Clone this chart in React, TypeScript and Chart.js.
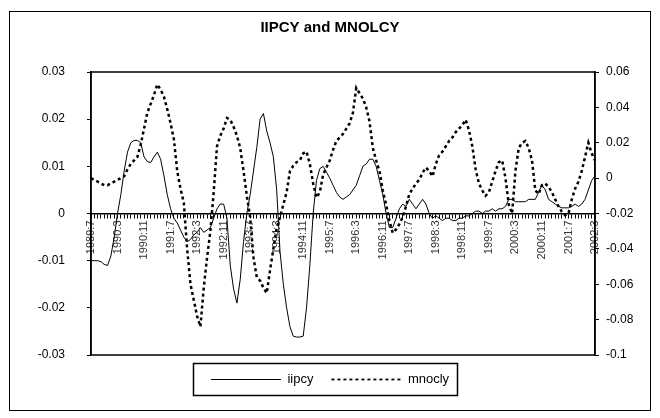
import React, { useEffect, useRef } from 'react';
import { Chart, registerables } from 'chart.js';

Chart.register(...registerables);

// Monthly series, 1989:7 .. 2002:3
const START_YEAR = 1989;
const START_MONTH = 7;
const LABEL_EVERY = 8;

const iipcy = [
  -0.0100, -0.0100, -0.0100, -0.0102, -0.0108, -0.0110, -0.0090, -0.0050, 0.0000, 0.0040,
  0.0090, 0.0130, 0.0150, 0.0155, 0.0155, 0.0150, 0.0120, 0.0110, 0.0108, 0.0120,
  0.0130, 0.0115, 0.0080, 0.0040, 0.0010, -0.0010, -0.0020, -0.0035, -0.0050, -0.0060,
  -0.0055, -0.0045, -0.0040, -0.0030, -0.0040, -0.0035, -0.0030, -0.0010, 0.0010, 0.0020,
  0.0020, -0.0010, -0.0110, -0.0160, -0.0190, -0.0140, -0.0060, 0.0000, 0.0040, 0.0090,
  0.0140, 0.0200, 0.0212, 0.0175, 0.0150, 0.0120, 0.0050, -0.0080, -0.0150, -0.0200,
  -0.0240, -0.0260, -0.0262, -0.0262, -0.0260, -0.0200, -0.0110, 0.0000, 0.0070, 0.0095,
  0.0100, 0.0088, 0.0075, 0.0060, 0.0045, 0.0035, 0.0030, 0.0035, 0.0040, 0.0050,
  0.0060, 0.0080, 0.0100, 0.0105, 0.0115, 0.0115, 0.0100, 0.0070, 0.0040, 0.0000,
  -0.0030, -0.0030, -0.0010, 0.0010, 0.0020, 0.0015, 0.0030, 0.0020, 0.0010, 0.0020,
  0.0030, 0.0020, 0.0000, -0.0010, -0.0005, -0.0010, -0.0015, -0.0010, -0.0010, -0.0015,
  -0.0015, -0.0010, -0.0010, -0.0005, -0.0005, 0.0000, 0.0005, 0.0005, 0.0000, 0.0005,
  0.0005, 0.0010, 0.0005, 0.0010, 0.0010, 0.0015, 0.0030, 0.0030, 0.0025, 0.0025,
  0.0025, 0.0025, 0.0030, 0.0030, 0.0030, 0.0045, 0.0060, 0.0050, 0.0030, 0.0025,
  0.0020, 0.0015, 0.0012, 0.0012, 0.0012, 0.0015, 0.0020, 0.0015, 0.0020, 0.0030,
  0.0050, 0.0070, 0.0080,
];

const mnocly = [
  0.000, -0.001, -0.002, -0.003, -0.004, -0.004, -0.003, -0.002, -0.001, 0.000,
  0.001, 0.005, 0.008, 0.010, 0.012, 0.019, 0.028, 0.037, 0.042, 0.047,
  0.053, 0.050, 0.046, 0.039, 0.031, 0.022, 0.004, -0.006, -0.014, -0.040,
  -0.060, -0.069, -0.078, -0.084, -0.062, -0.045, -0.030, -0.008, 0.018, 0.024,
  0.028, 0.034, 0.033, 0.029, 0.024, 0.017, 0.004, -0.010, -0.022, -0.045,
  -0.056, -0.058, -0.062, -0.065, -0.052, -0.040, -0.028, -0.022, -0.015, -0.008,
  0.004, 0.007, 0.009, 0.010, 0.014, 0.015, 0.008, -0.003, -0.011, -0.008,
  0.002, 0.006, 0.010, 0.016, 0.021, 0.023, 0.025, 0.028, 0.031, 0.037,
  0.051, 0.048, 0.045, 0.040, 0.032, 0.017, 0.010, 0.004, -0.007, -0.015,
  -0.024, -0.031, -0.029, -0.026, -0.022, -0.016, -0.009, -0.006, -0.003, -0.001,
  0.003, 0.006, 0.004, 0.001, 0.008, 0.013, 0.015, 0.018, 0.021, 0.023,
  0.026, 0.028, 0.030, 0.033, 0.027, 0.018, 0.005, -0.003, -0.007, -0.010,
  -0.008, -0.002, 0.004, 0.009, 0.010, 0.000, -0.015, -0.020, 0.004, 0.017,
  0.020, 0.021, 0.017, 0.010, -0.007, -0.009, -0.004, -0.003, -0.005, -0.008,
  -0.012, -0.016, -0.019, -0.021, -0.020, -0.012, -0.006, -0.002, 0.004, 0.012,
  0.020, 0.014, 0.010,
];

const LEFT_MIN = -0.03;
const LEFT_MAX = 0.03;
const LEFT_STEP = 0.01;
const RIGHT_MIN = -0.1;
const RIGHT_MAX = 0.06;
const RIGHT_STEP = 0.02;

const TITLE = 'IIPCY and MNOLCY';
const SERIES_NAMES = ['iipcy', 'mnocly'];

const months = iipcy.map((_, i) => {
  const m = START_MONTH - 1 + i;
  return `${START_YEAR + Math.floor(m / 12)}:${(m % 12) + 1}`;
});

const fmt = (v: number) => String(Number(Number(v).toFixed(2)));

const PAD = { left: 20, right: 20, top: 10, bottom: 22 };
const W = 660;
const H = 418;
const PLOT_LEFT = 91;
const PLOT_RIGHT = 595;

const framePlugin = {
  id: 'frames',
  beforeDraw(chart: any) {
    const { ctx, width, height } = chart;
    ctx.save();
    ctx.fillStyle = '#fff';
    ctx.fillRect(0, 0, width, height);
    ctx.strokeStyle = '#000';
    ctx.lineWidth = 1;
    ctx.strokeRect(9.5, 11.5, width - 19, height - 19);
    ctx.restore();
  },
  beforeDatasetsDraw(chart: any) {
    const { ctx, chartArea: a } = chart;
    ctx.save();
    ctx.strokeStyle = '#000';
    ctx.lineWidth = 1.5;
    ctx.strokeRect(a.left, a.top, a.right - a.left, a.bottom - a.top);
    ctx.restore();
  },
  afterDraw(chart: any) {
    const lg = chart.legend;
    if (!lg || !lg.legendHitBoxes || !lg.legendHitBoxes.length) return;
    const hb = lg.legendHitBoxes;
    const l = Math.min(...hb.map((h: any) => h.left)) - 18;
    const r = Math.max(...hb.map((h: any) => h.left + h.width)) + 8;
    const t = Math.min(...hb.map((h: any) => h.top)) - 10;
    const b = Math.max(...hb.map((h: any) => h.top + h.height)) + 9;
    const { ctx } = chart;
    ctx.save();
    ctx.strokeStyle = '#000';
    ctx.lineWidth = 1.5;
    ctx.strokeRect(Math.round(l) + 0.5, Math.round(t) + 0.5, Math.round(r - l), Math.round(b - t));
    ctx.restore();
  },
};

export default function App() {
  const ref = useRef<HTMLCanvasElement | null>(null);

  useEffect(() => {
    if (!ref.current) return;
    Chart.defaults.font.family = "'Liberation Sans', Arial, sans-serif";
    const chart = new Chart(ref.current, {
      type: 'line',
      data: {
        labels: months,
        datasets: [
          {
            label: SERIES_NAMES[0],
            data: iipcy,
            yAxisID: 'y',
            borderColor: '#000',
            backgroundColor: '#000',
            borderWidth: 1,
            pointRadius: 0,
            tension: 0,
          },
          {
            label: SERIES_NAMES[1],
            data: mnocly,
            yAxisID: 'y1',
            borderColor: '#000',
            backgroundColor: '#000',
            borderWidth: 2.5,
            borderDash: [3, 3],
            pointRadius: 0,
            tension: 0,
          },
        ],
      },
      options: {
        responsive: false,
        animation: false,
        events: [],
        layout: { padding: PAD },
        plugins: {
          title: {
            display: true,
            text: TITLE,
            color: '#000',
            font: { size: 15, weight: 'bold' },
            padding: { top: 9, bottom: 35 },
          },
          legend: {
            position: 'bottom',
            labels: {
              usePointStyle: true,
              pointStyle: 'line',
              pointStyleWidth: 70,
              color: '#000',
              font: { size: 13 },
              padding: 18,
              generateLabels: (chart: any) => {
                const items = Chart.defaults.plugins.legend.labels.generateLabels(chart);
                return items.map((it: any) => {
                  const ds = chart.data.datasets[it.datasetIndex];
                  return {
                    ...it,
                    lineDash: ds.borderDash ? [3, 3] : [],
                    lineWidth: ds.borderDash ? 1.8 : 1,
                    strokeStyle: '#000',
                    pointStyle: 'line',
                  };
                });
              },
            },
          },
          tooltip: { enabled: false },
        },
        scales: {
          x: {
            type: 'category',
            position: { y: 0 } as any,
            offset: false,
            grid: { drawOnChartArea: false, drawTicks: true, tickLength: 4, color: '#000', lineWidth: 1 },
            border: { display: true, color: '#000', width: 1.5 },
            ticks: {
              autoSkip: false,
              minRotation: 90,
              maxRotation: 90,
              padding: 3,
              color: '#333',
              font: { size: 11 },
              callback: (_v: any, i: number) => (i % LABEL_EVERY === 0 ? months[i] : ''),
            },
          },
          y: {
            position: 'left',
            min: LEFT_MIN,
            max: LEFT_MAX,
            grid: { drawOnChartArea: false, tickLength: 4, color: '#000' },
            border: { display: true, color: '#000', width: 1.5 },
            ticks: { stepSize: LEFT_STEP, padding: 22, color: '#000', font: { size: 12 }, callback: (v: any) => fmt(v) },
            afterFit: (s: any) => { s.width = PLOT_LEFT - PAD.left; },
          },
          y1: {
            position: 'right',
            min: RIGHT_MIN,
            max: RIGHT_MAX,
            grid: { drawOnChartArea: false, tickLength: 4, color: '#000' },
            border: { display: true, color: '#000', width: 1.5 },
            ticks: { stepSize: RIGHT_STEP, padding: 7, color: '#000', font: { size: 12 }, callback: (v: any) => fmt(v) },
            afterFit: (s: any) => { s.width = W - PLOT_RIGHT - PAD.right; },
          },
        },
      } as any,
      plugins: [framePlugin],
    });
    return () => chart.destroy();
  }, []);

  return (
    <div style={{ position: 'fixed', left: 0, top: 0, width: W, height: H, background: '#fff' }}>
      <canvas ref={ref} width={W} height={H} style={{ display: 'block', width: W, height: H }} />
    </div>
  );
}
